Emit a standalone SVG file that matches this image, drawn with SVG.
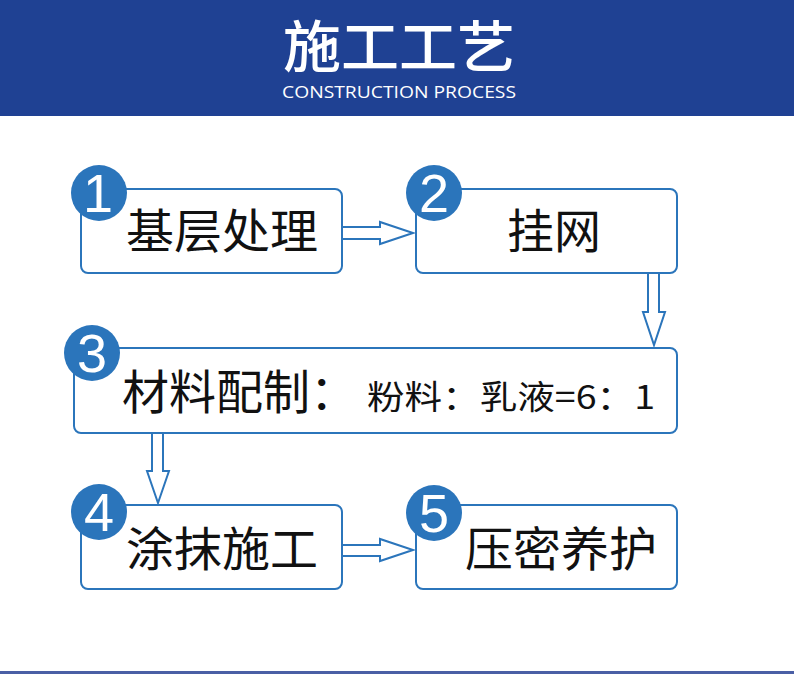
<svg xmlns="http://www.w3.org/2000/svg" width="794" height="674" viewBox="0 0 794 674">
<style>
.box{fill:#fff;stroke:#2b75bb;stroke-width:2}
.num{fill:#2b75bb}
.n{font-family:"Liberation Sans",Arial,sans-serif;font-size:54px;fill:#fff;text-anchor:middle}
.t{font-family:"Noto Sans CJK SC","Noto Sans",sans-serif;font-size:47px;fill:#111}
.s{font-family:"Noto Sans CJK SC","Noto Sans",sans-serif;font-size:33px;fill:#111}
.arr{fill:#fff;stroke:#2b75bb;stroke-width:2;stroke-linejoin:miter}
</style>
<rect x="0" y="0" width="794" height="674" fill="#fff"/>
<g id="header">
<rect x="0" y="0" width="794" height="116" fill="#1f4193"/>
<text x="399" y="67" text-anchor="middle" font-family="Noto Sans CJK SC,sans-serif" font-size="56" fill="#fff" font-weight="500" textLength="232" lengthAdjust="spacingAndGlyphs">施工工艺</text>
<text x="399" y="98" text-anchor="middle" font-family="Open Sans,Noto Sans,sans-serif" font-size="16" fill="#fff" textLength="234" lengthAdjust="spacingAndGlyphs">CONSTRUCTION PROCESS</text>
</g>
<rect x="0" y="671" width="794" height="3" fill="#4a5fa5"/>
<g id="connectors">
<path class="arr" d="M342 227 H380 V222 L413 233 L380 244 V239 H342 Z"/>
<path class="arr" d="M648 273 V312 H643 L654 345 L665 312 H659 V273 Z"/>
<path class="arr" d="M152 433 V471 H147 L158 503 L169 471 H163 V433 Z"/>
<path class="arr" d="M342 545 H380 V539 L413 550 L380 561 V556 H342 Z"/>
</g>
<g id="node1">
<rect class="box" x="81" y="189" width="261" height="84" rx="7"/>
<circle class="num" cx="99" cy="193" r="28"/>
<text class="n" x="98" y="212">1</text>
<text class="t" x="126" y="248" textLength="192" lengthAdjust="spacingAndGlyphs">基层处理</text>
</g>
<g id="node2">
<rect class="box" x="416" y="189" width="261" height="84" rx="7"/>
<circle class="num" cx="434" cy="193" r="28"/>
<text class="n" x="434" y="212">2</text>
<text class="t" x="507" y="248" textLength="94" lengthAdjust="spacingAndGlyphs">挂网</text>
</g>
<g id="node3">
<rect class="box" x="74" y="348" width="603" height="85" rx="7"/>
<circle class="num" cx="92" cy="353" r="28"/>
<text class="n" x="92" y="372">3</text>
<text class="t" x="122" y="409">材料配制：</text>
<text class="s" x="367" y="409" textLength="288" lengthAdjust="spacingAndGlyphs">粉料：乳液=6：1</text>
</g>
<g id="node4">
<rect class="box" x="81" y="505" width="261" height="84" rx="7"/>
<circle class="num" cx="99" cy="512" r="28"/>
<text class="n" x="99" y="531">4</text>
<text class="t" x="126" y="566" textLength="192" lengthAdjust="spacingAndGlyphs">涂抹施工</text>
</g>
<g id="node5">
<rect class="box" x="416" y="505" width="261" height="84" rx="7"/>
<circle class="num" cx="434" cy="513" r="28"/>
<text class="n" x="434" y="532">5</text>
<text class="t" x="465" y="566" textLength="192" lengthAdjust="spacingAndGlyphs">压密养护</text>
</g>
</svg>
